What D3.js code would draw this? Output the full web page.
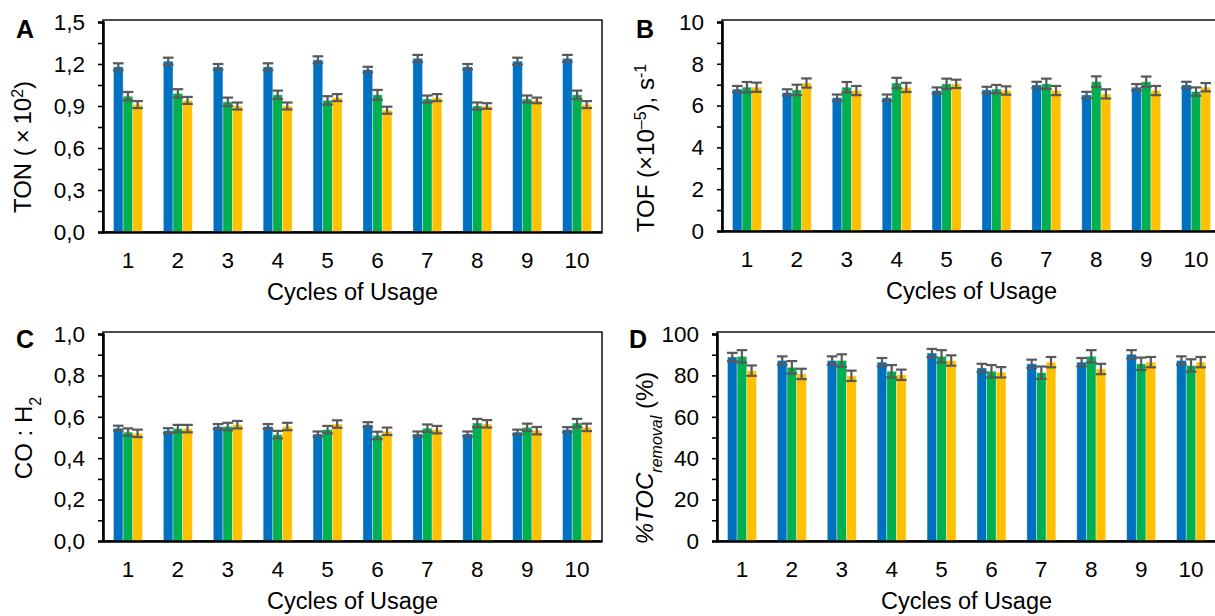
<!DOCTYPE html>
<html>
<head>
<meta charset="utf-8">
<script src="https://cdnjs.cloudflare.com/ajax/libs/d3/7.8.5/d3.min.js"></script>
<style>
  body { margin: 0; background: #fff; }
  text { font-family: "Liberation Sans", Arial, sans-serif; fill: #000; }
</style>
</head>
<body>
<svg id="chart" width="1215" height="616"></svg>
<script>
// cycles of usage and the three series
var cycles = ["1", "2", "3", "4", "5", "6", "7", "8", "9", "10"];
var seriesKeys = ["s1", "s2", "s3"];
var seriesColors = ["#0070C0", "#00B050", "#FFC000"];

// A - TON (x10^2)
var tonBlue   = [1.18, 1.22, 1.18, 1.18, 1.23, 1.16, 1.24, 1.18, 1.22, 1.24];
var tonGreen  = [0.97, 0.99, 0.93, 0.98, 0.94, 0.98, 0.95, 0.90, 0.95, 0.98];
var tonYellow = [0.91, 0.94, 0.90, 0.90, 0.96, 0.87, 0.96, 0.90, 0.94, 0.91];
var tonBlueErr   = [0.025, 0.025, 0.02, 0.025, 0.025, 0.02, 0.025, 0.02, 0.025, 0.025];
var tonGreenErr  = [0.03, 0.03, 0.03, 0.03, 0.03, 0.035, 0.025, 0.025, 0.025, 0.03];
var tonYellowErr = [0.025, 0.025, 0.025, 0.025, 0.025, 0.025, 0.025, 0.02, 0.02, 0.025];
var tonTicks = ["0,0", "0,3", "0,6", "0,9", "1,2", "1,5"];

// B - TOF (x10^-5), s^-1
var tofBlue   = [6.79, 6.63, 6.38, 6.38, 6.72, 6.75, 6.99, 6.51, 6.88, 6.99];
var tofGreen  = [6.88, 6.75, 6.88, 7.08, 7.04, 6.79, 7.04, 7.15, 7.14, 6.67];
var tofYellow = [6.88, 7.08, 6.72, 6.87, 7.04, 6.72, 6.72, 6.56, 6.72, 6.88];
var tofBlueErr   = [0.15, 0.15, 0.15, 0.15, 0.15, 0.15, 0.15, 0.15, 0.15, 0.15];
var tofGreenErr  = [0.25, 0.25, 0.25, 0.25, 0.25, 0.2, 0.25, 0.25, 0.25, 0.2];
var tofYellowErr = [0.22, 0.22, 0.22, 0.22, 0.2, 0.2, 0.22, 0.22, 0.22, 0.2];
var tofTicks = ["0", "2", "4", "6", "8", "10"];

// C - CO : H2
var coBlue   = [0.545, 0.533, 0.553, 0.553, 0.517, 0.562, 0.517, 0.517, 0.526, 0.538];
var coGreen  = [0.526, 0.543, 0.553, 0.514, 0.538, 0.510, 0.545, 0.570, 0.549, 0.570];
var coYellow = [0.520, 0.543, 0.562, 0.553, 0.565, 0.530, 0.538, 0.566, 0.533, 0.549];
var coBlueErr   = [0.012, 0.012, 0.012, 0.012, 0.012, 0.012, 0.012, 0.012, 0.012, 0.012];
var coGreenErr  = [0.018, 0.018, 0.018, 0.018, 0.018, 0.018, 0.018, 0.02, 0.018, 0.02];
var coYellowErr = [0.018, 0.018, 0.018, 0.018, 0.018, 0.018, 0.018, 0.018, 0.018, 0.018];
var coTicks = ["0,0", "0,2", "0,4", "0,6", "0,8", "1,0"];

// D - %TOC removal
var tocBlue   = [88.9, 87.2, 87.2, 86.4, 90.8, 83.6, 85.6, 86.4, 90.2, 87.2];
var tocGreen  = [89.2, 83.9, 87.2, 82.0, 89.2, 82.0, 81.3, 89.2, 85.6, 84.8];
var tocYellow = [82.3, 80.7, 79.8, 80.3, 87.2, 81.5, 86.4, 83.1, 86.4, 86.4];
var tocBlueErr   = [2, 2, 2, 2, 2, 2, 2, 2, 2, 2];
var tocGreenErr  = [3, 3, 3, 3, 3, 3, 3, 3, 3, 3];
var tocYellowErr = [2.5, 2.5, 2.5, 2.5, 2.5, 2.5, 2.5, 2.5, 2.5, 2.5];
var tocTicks = ["0", "20", "40", "60", "80", "100"];

var svg = d3.select("#chart");
var tickFont = 22.5, titleFont = 23.5, yTitleFont = 24, supFont = "16px";

function drawPanel(p) {
    var g = svg.append("g").attr("class", "panel");
    var plotW = 499;

    var x = d3.scaleBand().domain(cycles)
        .range([p.left, p.left + plotW])
        .paddingInner(0.42).paddingOuter(0.21);
    var xs = d3.scaleBand().domain(seriesKeys).range([0, x.bandwidth()]);
    var y = d3.scaleLinear().domain([0, p.max]).range([p.bottom, p.top]);

    // plot frame
    g.append("rect")
        .attr("x", p.left).attr("y", p.top - 2)
        .attr("width", plotW).attr("height", p.bottom - p.top + 2)
        .attr("fill", "none").attr("stroke", "#000").attr("stroke-width", 1.4);

    var rows = [];
    cycles.forEach(function(c, i) {
        p.series.forEach(function(s, k) {
            rows.push({ cycle: c, key: seriesKeys[k], color: seriesColors[k], v: s[i], e: p.errors[k][i] });
        });
    });

    g.append("g").selectAll("rect").data(rows).enter().append("rect")
        .attr("x", function(d) { return x(d.cycle) + xs(d.key); })
        .attr("y", function(d) { return y(d.v); })
        .attr("width", xs.bandwidth())
        .attr("height", function(d) { return y(0) - y(d.v); })
        .attr("fill", function(d) { return d.color; })
        .attr("stroke", "#ffffff").attr("stroke-opacity", 0.45).attr("stroke-width", 0.8);

    // error bars
    var eb = g.append("g").attr("stroke", "#595959").attr("stroke-width", 2.2);
    var cap = xs.bandwidth() * 0.55;
    rows.forEach(function(d) {
        var cx = x(d.cycle) + xs(d.key) + xs.bandwidth() / 2;
        eb.append("line").attr("x1", cx).attr("x2", cx).attr("y1", y(d.v + d.e)).attr("y2", y(d.v - d.e));
        eb.append("line").attr("x1", cx - cap).attr("x2", cx + cap).attr("y1", y(d.v + d.e)).attr("y2", y(d.v + d.e));
        eb.append("line").attr("x1", cx - cap).attr("x2", cx + cap).attr("y1", y(d.v - d.e)).attr("y2", y(d.v - d.e));
    });

    // y axis: ticks at every half step, labels at majors
    var step = p.max / 5;
    var allTicks = d3.range(0, 11).map(function(i) { return i * step / 2; });
    var yAxis = d3.axisLeft(y).tickValues(allTicks).tickSize(5).tickPadding(13)
        .tickFormat(function(d, i) { return i % 2 === 0 ? p.ticks[i / 2] : ""; });
    var ya = g.append("g").attr("transform", "translate(" + p.left + ",0)").call(yAxis);
    ya.select(".domain").attr("stroke-width", 2.6);
    ya.selectAll(".tick line").attr("stroke-width", 1.6);
    ya.selectAll("text").style("font-size", tickFont + "px").attr("fill", "#000");

    // x axis
    var xa = g.append("g").attr("transform", "translate(0," + p.bottom + ")")
        .call(d3.axisBottom(x).tickSize(0).tickPadding(20));
    xa.select(".domain").attr("stroke-width", 2.6);
    xa.selectAll("text").style("font-size", tickFont + "px").attr("fill", "#000");

    g.append("text")
        .attr("x", p.left + plotW / 2).attr("y", p.bottom + 68)
        .attr("text-anchor", "middle").style("font-size", titleFont + "px")
        .text("Cycles of Usage");

    g.append("text")
        .attr("x", p.letterX).attr("y", p.letterY)
        .style("font-size", "25px").style("font-weight", "bold")
        .text(p.letter);

    var t = g.append("text")
        .attr("transform", "translate(" + p.titleX + "," + p.titleY + ") rotate(-90)")
        .attr("text-anchor", "middle").style("font-size", yTitleFont + "px");
    p.title(t);
}

drawPanel({
    left: 103, top: 22, bottom: 232, max: 1.5,
    series: [tonBlue, tonGreen, tonYellow],
    errors: [tonBlueErr, tonGreenErr, tonYellowErr],
    ticks: tonTicks, letter: "A", letterX: 16, letterY: 38,
    titleX: 31, titleY: 147,
    title: function(t) {
        t.append("tspan").text("TON (\u2009\u00D7\u200910");
        t.append("tspan").attr("baseline-shift", "super").style("font-size", supFont).text("2");
        t.append("tspan").text(")");
    }
});

drawPanel({
    left: 722, top: 22, bottom: 231, max: 10,
    series: [tofBlue, tofGreen, tofYellow],
    errors: [tofBlueErr, tofGreenErr, tofYellowErr],
    ticks: tofTicks, letter: "B", letterX: 636, letterY: 38,
    titleX: 654, titleY: 148,
    title: function(t) {
        t.append("tspan").text("TOF (\u00D710");
        t.append("tspan").attr("baseline-shift", "super").style("font-size", supFont).text("\u20135");
        t.append("tspan").text("), s");
        t.append("tspan").attr("baseline-shift", "super").style("font-size", supFont).text("-1");
    }
});

drawPanel({
    left: 103, top: 334, bottom: 541, max: 1.0,
    series: [coBlue, coGreen, coYellow],
    errors: [coBlueErr, coGreenErr, coYellowErr],
    ticks: coTicks, letter: "C", letterX: 16, letterY: 348,
    titleX: 32, titleY: 438,
    title: function(t) {
        t.append("tspan").text("CO : H");
        t.append("tspan").attr("baseline-shift", "sub").style("font-size", supFont).text("2");
    }
});

drawPanel({
    left: 717, top: 334, bottom: 541, max: 100,
    series: [tocBlue, tocGreen, tocYellow],
    errors: [tocBlueErr, tocGreenErr, tocYellowErr],
    ticks: tocTicks, letter: "D", letterX: 629, letterY: 348,
    titleX: 653, titleY: 458,
    title: function(t) {
        t.append("tspan").style("font-style", "italic").text("%TOC");
        t.append("tspan").attr("baseline-shift", "sub").style("font-size", supFont).style("font-style", "italic").text("removal");
        t.append("tspan").text(" (%)");
    }
});
</script>
</body>
</html>
